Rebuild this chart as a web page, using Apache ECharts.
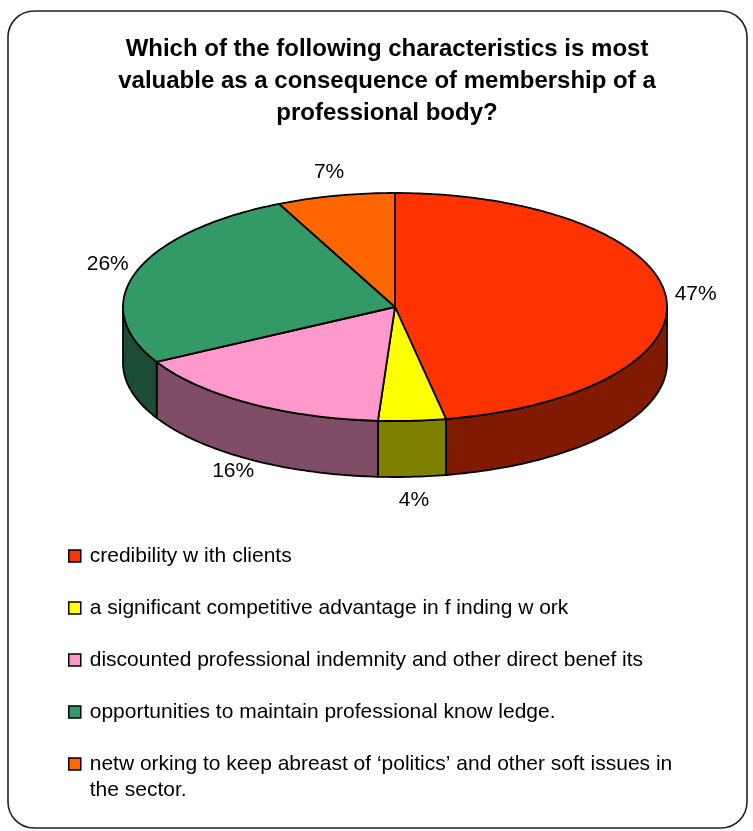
<!DOCTYPE html>
<html>
<head>
<meta charset="utf-8">
<script src="https://cdn.jsdelivr.net/npm/echarts@6/dist/echarts.min.js"></script>
<style>
  html, body { margin: 0; padding: 0; background: #ffffff; }
  #chart { width: 753px; height: 831px; }
</style>
</head>
<body>
<div id="chart"></div>
<script>
// Survey answers, in slice order (clockwise from 12 o'clock)
const categories = [
  'credibility w ith clients',
  'a significant competitive advantage in f inding w ork',
  'discounted professional indemnity and other direct benef its',
  'opportunities to maintain professional know ledge.',
  'netw orking to keep abreast of \u2018politics\u2019 and other soft issues in the sector.'
];
const shares = [47, 4, 16, 26, 7];

const titleText = 'Which of the following characteristics is most\nvaluable as a consequence of membership of a\nprofessional body?';

// Face colours: top of each slice and its darker outer wall
const topColors  = ['#FF3300', '#FFFF00', '#FF99CC', '#339966', '#FF6600'];
const sideColors = ['#801A00', '#808000', '#804D66', '#1A4D33', '#803300'];

// Tilted-pie geometry (px)
const PIE = { cx: 395, cy: 307, rx: 272, ry: 114, depth: 56, gapX: 30, gapY: 24 };
const FONT = '"Liberation Sans", Arial, sans-serif';

const total = shares.reduce((a, b) => a + b, 0);
const starts = shares.map((_, i) => shares.slice(0, i).reduce((a, b) => a + b, 0));

function rimPoint(theta, dy) {
  return [PIE.cx + PIE.rx * Math.sin(theta), PIE.cy - PIE.ry * Math.cos(theta) + dy];
}
function arc(a0, a1, dy) {
  const n = Math.max(2, Math.ceil((a1 - a0) / (Math.PI / 180)));
  const pts = [];
  for (let k = 0; k <= n; k++) pts.push(rimPoint(a0 + (a1 - a0) * k / n, dy));
  return pts;
}

function makeRender(idx) {
  return function (params, api) {
    const start = api.value(0), value = api.value(1);
    const a0 = start / total * 2 * Math.PI;
    const a1 = (start + value) / total * 2 * Math.PI;
    const children = [];
    const stroke = { stroke: '#000', lineWidth: 1.8, lineJoin: 'round' };

    // outer wall, visible on the front half only
    const s = Math.max(a0, Math.PI / 2), e = Math.min(a1, 3 * Math.PI / 2);
    if (e > s) {
      const wall = arc(s, e, 0).concat(arc(s, e, PIE.depth).reverse());
      children.push({ type: 'polygon', z2: 1, shape: { points: wall },
        style: Object.assign({ fill: sideColors[idx] }, stroke) });
    }
    // top face
    const top = [[PIE.cx, PIE.cy]].concat(arc(a0, a1, 0));
    children.push({ type: 'polygon', z2: 2, shape: { points: top },
      style: Object.assign({ fill: topColors[idx] }, stroke) });

    // percentage label just outside the rim
    const m = (a0 + a1) / 2;
    const c = Math.cos(m);
    const lx = PIE.cx + (PIE.rx + PIE.gapX) * Math.sin(m);
    const ly = PIE.cy - (PIE.ry + PIE.gapY) * c + (c < 0 ? -c * PIE.depth : 0);
    children.push({ type: 'text', z2: 3, style: {
      text: Math.round(value / total * 100) + '%', x: lx, y: ly,
      align: 'center', verticalAlign: 'middle', fill: '#000',
      font: '21px ' + FONT } });
    return { type: 'group', children: children };
  };
}

const series = categories.map((name, i) => ({
  type: 'custom',
  name: name,
  coordinateSystem: 'none',
  itemStyle: { color: topColors[i] },
  renderItem: makeRender(i),
  data: [[starts[i], shares[i]]],
  silent: true,
  animation: false
}));

const legendCommon = {
  orient: 'vertical', left: 68, padding: 0,
  icon: 'rect', itemWidth: 12, itemHeight: 12, itemGap: 26,
  selectedMode: false,
  itemStyle: { borderColor: '#000', borderWidth: 1.5 }
};
const legendText = { fontFamily: FONT, fontSize: 21, lineHeight: 26, color: '#000', padding: [0, 0, 0, 4] };

const chart = echarts.init(document.getElementById('chart'), null, { renderer: 'canvas' });
chart.setOption({
  backgroundColor: '#ffffff',
  animation: false,
  color: topColors,
  title: {
    text: titleText,
    left: 387, top: 33, padding: 0,
    textAlign: 'center', textVerticalAlign: 'top',
    textStyle: { fontFamily: FONT, fontWeight: 'bold', fontSize: 24, lineHeight: 32, color: '#000' }
  },
  legend: [
    Object.assign({}, legendCommon, {
      top: 543,
      data: categories.slice(0, 4),
      textStyle: legendText
    }),
    Object.assign({}, legendCommon, {
      // leading blank line keeps the marker level with the first wrapped line
      top: 725,
      data: categories.slice(4),
      formatter: name => '\n' + name,
      textStyle: Object.assign({}, legendText, { width: 640, overflow: 'break' })
    })
  ],
  graphic: [{
    type: 'rect', silent: true, z: -1,
    shape: { x: 8, y: 11, width: 739, height: 817, r: 26 },
    style: { fill: 'none', stroke: '#222', lineWidth: 1.6 }
  }],
  series: series
});
</script>
</body>
</html>
